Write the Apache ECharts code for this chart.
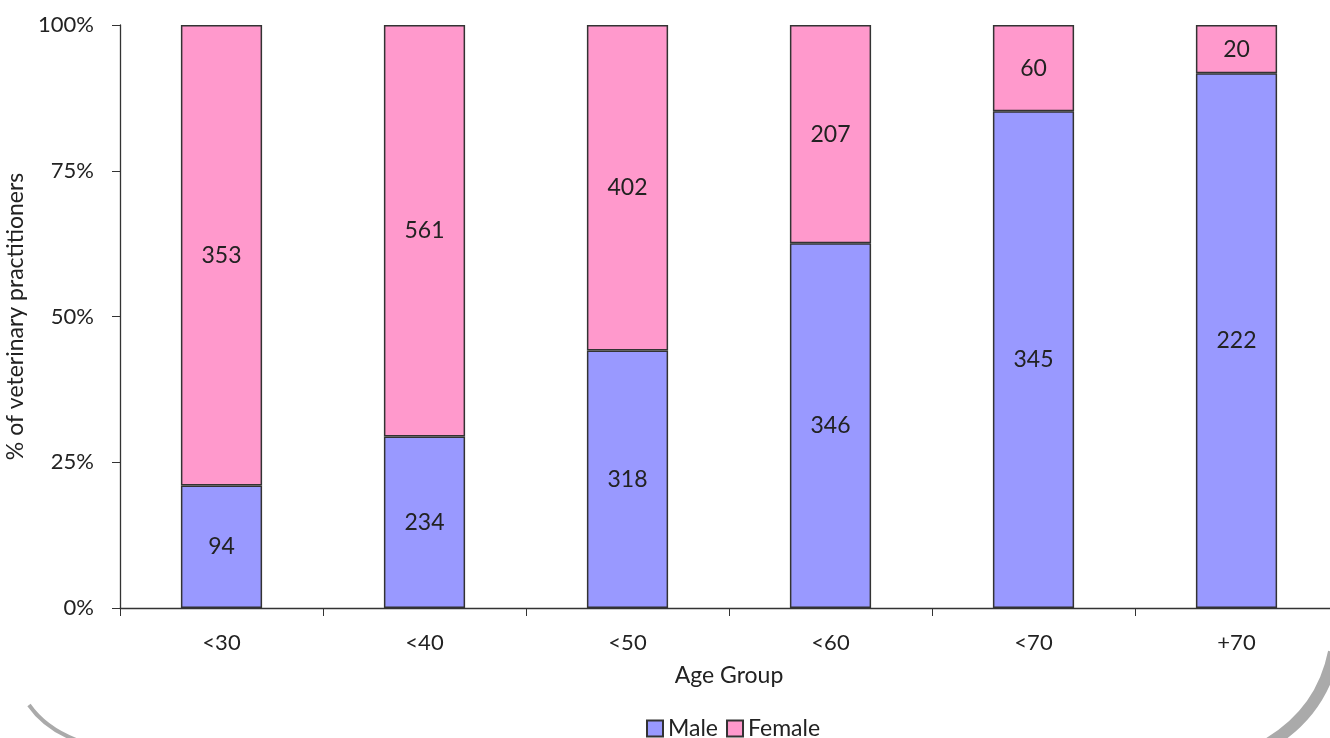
<!DOCTYPE html>
<html>
<head>
<meta charset="utf-8">
<script src="https://cdn.jsdelivr.net/npm/echarts@6/dist/echarts.min.js"></script>
<style>
html,body{margin:0;padding:0;background:#fff;}
#chart{width:1330px;height:738px;}
</style>
</head>
<body>
<div id="chart"></div>
<script>
// 数据
var ageGroups = ["<30", "<40", "<50", "<60", "<70", "+70"];
var maleCounts = [94, 234, 318, 346, 345, 222];
var femaleCounts = [353, 561, 402, 207, 60, 20];
var yTicks = ["0%", "25%", "50%", "75%", "100%"];

var fontFam = "Lato, 'Open Sans', sans-serif";
var txtColor = "#222";

// 百分比堆积
function share(arr, i) {
    return arr[i] / (maleCounts[i] + femaleCounts[i]) * 100;
}
var maleData = ageGroups.map(function (c, i) {
    return { value: share(maleCounts, i), count: maleCounts[i] };
});
var femaleData = ageGroups.map(function (c, i) {
    return { value: share(femaleCounts, i), count: femaleCounts[i] };
});

var myChart = echarts.init(document.getElementById('chart'));
myChart.setOption({
    animation: false,
    textStyle: { fontFamily: fontFam },
    grid: { left: 120, top: 25, bottom: 130, right: -8, containLabel: false, outerBoundsMode: 'none' },
    legend: {
        top: 712,
        left: 641,
        itemWidth: 16,
        itemHeight: 16,
        itemGap: 8,
        icon: 'rect',
        textStyle: { fontSize: 23, color: txtColor, fontFamily: fontFam },
        data: ["Male", "Female"]
    },
    xAxis: {
        type: 'category',
        data: ageGroups,
        name: "Age Group",
        nameLocation: 'middle',
        nameGap: 56,
        nameTextStyle: { fontSize: 23, color: txtColor },
        axisLine: { lineStyle: { color: '#333', width: 1.3 } },
        axisTick: { show: true, length: 8, lineStyle: { color: '#333' } },
        axisLabel: { fontSize: 22, color: txtColor, margin: 24 }
    },
    yAxis: {
        type: 'value',
        min: 0,
        max: 100,
        interval: 25,
        name: "% of veterinary practitioners",
        nameLocation: 'middle',
        nameGap: 90,
        nameRotate: 90,
        nameTextStyle: { fontSize: 23, color: txtColor },
        splitLine: { show: false },
        axisLine: { show: true, lineStyle: { color: '#333', width: 1.3 } },
        axisTick: { show: true, length: 8, lineStyle: { color: '#333' } },
        axisLabel: {
            fontSize: 22, color: txtColor, margin: 26,
            formatter: function (v) { return yTicks[v / 25]; }
        }
    },
    series: [
        {
            name: "Male",
            type: 'bar',
            stack: 'all',
            barWidth: '40%',
            data: maleData,
            itemStyle: { color: '#9999FF', borderColor: '#333', borderWidth: 1.5 },
            label: {
                show: true, position: 'inside', fontSize: 23, color: txtColor,
                formatter: function (p) { return p.data.count; }
            }
        },
        {
            name: "Female",
            type: 'bar',
            stack: 'all',
            barWidth: '40%',
            data: femaleData,
            itemStyle: { color: '#FF99CC', borderColor: '#333', borderWidth: 1.5 },
            label: {
                show: true, position: 'inside', fontSize: 23, color: txtColor,
                formatter: function (p) { return p.data.count; }
            }
        }
    ],
    // 底部装饰弧线
    graphic: [
        {
            type: 'bezierCurve',
            silent: true,
            shape: { x1: 29, y1: 705, cpx1: 45, cpy1: 728, x2: 76, y2: 740 },
            style: { stroke: '#aaa', lineWidth: 4, fill: null }
        },
        {
            type: 'bezierCurve',
            silent: true,
            shape: { x1: 1334, y1: 652, cpx1: 1322, cpy1: 712, x2: 1268, y2: 744 },
            style: { stroke: '#aaa', lineWidth: 12, fill: null }
        }
    ]
});
window.addEventListener("resize", function () {
    myChart.resize();
});
</script>
</body>
</html>
